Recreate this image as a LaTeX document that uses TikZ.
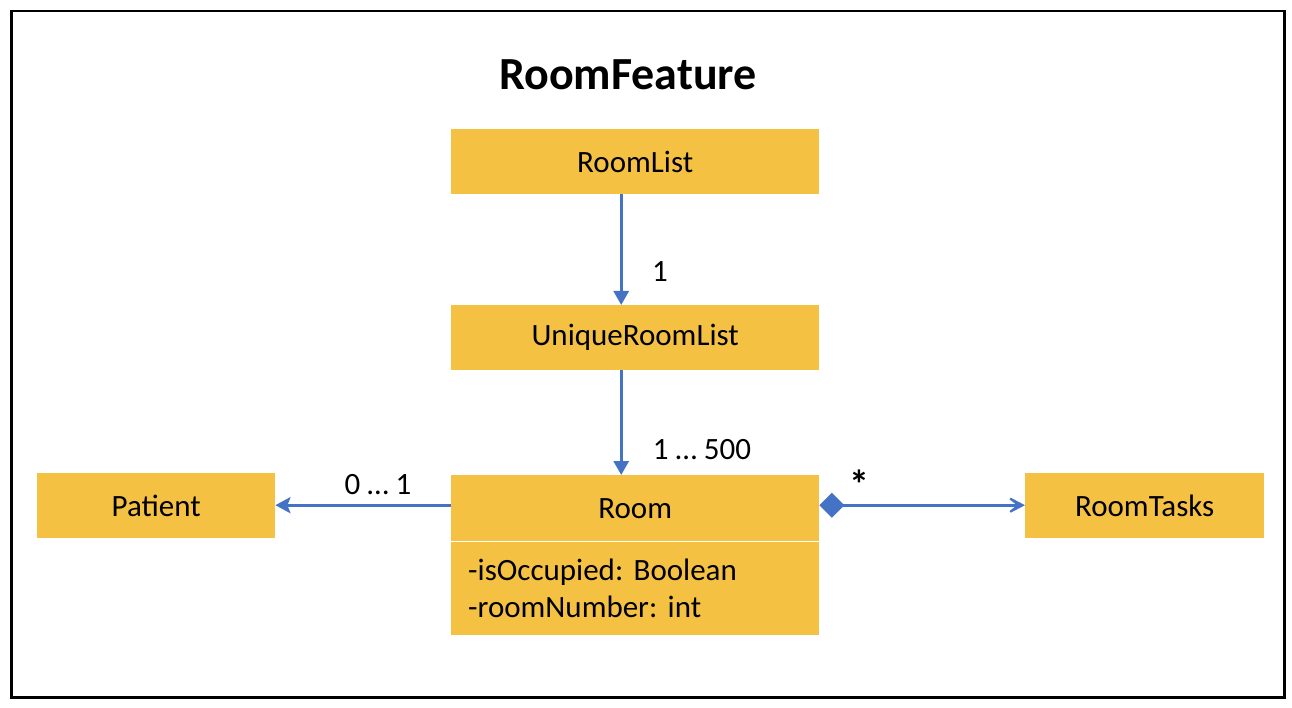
\documentclass[tikz,border=0pt]{standalone}
\usepackage{fontspec}
\setmainfont{Carlito}
\usetikzlibrary{arrows.meta}
\definecolor{boxfill}{HTML}{F4C143}
\definecolor{linkblue}{HTML}{4472C4}
\frenchspacing
\begin{document}
\begin{tikzpicture}[x=1pt,y=-1pt,
  cls/.style={fill=boxfill, draw=none, inner sep=0pt, anchor=north west, font=\fontsize{31}{37}\selectfont},
  link/.style={draw=linkblue, line width=3pt},
  lbl/.style={font=\fontsize{31}{37}\selectfont, inner sep=0pt}]
\useasboundingbox (0,0) rectangle (1292,708);
\node[draw, line width=2.5pt, minimum width=1273pt, minimum height=686pt, anchor=north west, inner sep=0pt] (frame) at (10,10) {};
\node[font=\bfseries\fontsize{46}{50}\selectfont, inner sep=0pt] (title) at (628,75) {RoomFeature};
\node[cls, minimum width=368pt, minimum height=65pt] (roomlist) at (451,129) {RoomList};
\node[cls, minimum width=368pt, minimum height=65pt] (unique) at (451,305) {UniqueRoomList};
\node[cls, minimum width=368pt, minimum height=66pt] (room) at (451,475) {Room};
\node[cls, minimum width=368pt, minimum height=94pt, text width=334pt, inner xsep=17pt, align=left] (attrs) at (451,541) {-isOccupied: Boolean\\-roomNumber: int};
\draw[white, line width=1.5pt] (room.south west) -- (room.south east);
\node[cls, minimum width=238pt, minimum height=65pt] (patient) at (37,473) {Patient};
\node[cls, minimum width=239pt, minimum height=65pt] (tasks) at (1025,473) {RoomTasks};
\draw[link, -{Triangle[length=14pt,width=15pt]}] ([xshift=-14pt]roomlist.south) -- ([xshift=-14pt]unique.north);
\draw[link, -{Triangle[length=14pt,width=15pt]}] ([xshift=-14pt]unique.south) -- ([xshift=-14pt]room.north);
\draw[link, -{Stealth[length=15pt,width=16pt,inset=3pt]}] ([yshift=3pt]room.west) -- ([yshift=3pt]room.west -| patient.east);
\draw[link, {Diamond[length=25pt,width=25pt]}-{Stealth[length=24pt,width=25pt,inset=16pt]}] ([yshift=3pt]room.east) -- ([yshift=3pt]room.east -| tasks.west);
\node[lbl] (m1) at (660,272) {1};
\node[lbl] (m2) at (702,450) {1 … 500};
\node[lbl] (m3) at (378,485) {0 … 1};
\node[lbl, font=\bfseries\fontsize{40}{44}\selectfont] (m4) at (859,484) {*};
\end{tikzpicture}
\end{document}
